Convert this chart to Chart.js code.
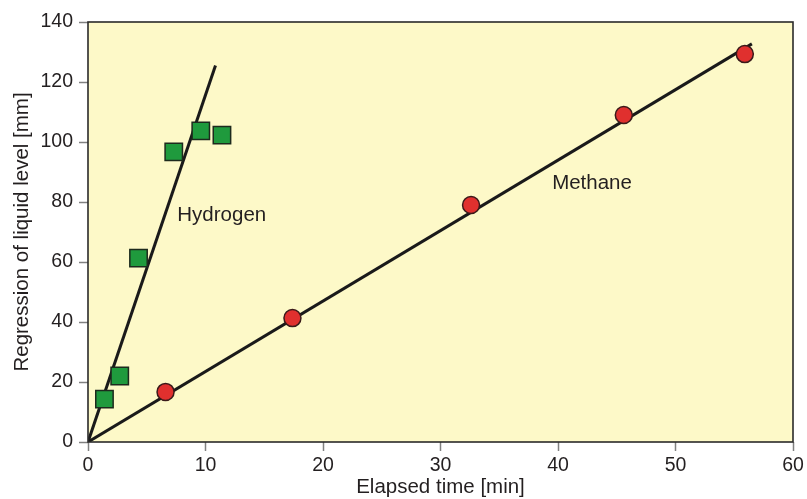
<!DOCTYPE html>
<html>
<head>
<meta charset="utf-8">
<script src="https://cdn.jsdelivr.net/npm/chart.js@4/dist/chart.umd.min.js"></script>
<style>
  html, body { margin: 0; padding: 0; background: #fff; }
  #wrap { width: 807px; height: 499px; }
</style>
</head>
<body>
<div id="wrap"><canvas id="c"></canvas></div>
<script>
// Measured points
const hydrogenTime = [1.4, 2.7, 4.3, 7.3, 9.6, 11.4];
const hydrogenLevel = [14.3, 22, 61.3, 96.7, 103.7, 102.3];
const methaneTime = [6.6, 17.4, 32.6, 45.6, 55.9];
const methaneLevel = [16.7, 41.3, 79, 109, 129.3];

// Fitted lines (start / end)
const hydrogenFitTime = [0, 10.85];
const hydrogenFitLevel = [0, 125.5];
const methaneFitTime = [0, 56.5];
const methaneFitLevel = [0, 132.7];

// In-plot labels (data coordinates of left edge)
const noteText = ['Hydrogen', 'Methane'];
const noteTime = [7.6, 39.5];
const noteLevel = [75.7, 86.3];

const xTicks = [0, 10, 20, 30, 40, 50, 60];
const yTicks = [0, 20, 40, 60, 80, 100, 120, 140];

const FONT = '"Liberation Sans", Arial, Helvetica, sans-serif';
const TEXT = '#231f20';

const toXY = (xs, ys) => xs.map((x, i) => ({ x, y: ys[i] }));

// plot background + frame + in-plot labels
const framePlugin = {
  id: 'frame',
  beforeDatasetsDraw(chart) {
    const { ctx, chartArea: a } = chart;
    ctx.save();
    ctx.fillStyle = '#fdf9c8';
    ctx.fillRect(a.left, a.top, a.right - a.left, a.bottom - a.top);
    ctx.restore();
  },
  afterDatasetsDraw(chart) {
    const { ctx, chartArea: a, scales } = chart;
    ctx.save();
    ctx.strokeStyle = '#2a2a2a';
    ctx.lineWidth = 1.6;
    ctx.strokeRect(a.left, a.top, a.right - a.left, a.bottom - a.top);
    ctx.fillStyle = TEXT;
    ctx.font = '20.5px ' + FONT;
    ctx.textAlign = 'left';
    ctx.textBaseline = 'middle';
    noteText.forEach((t, i) => {
      ctx.fillText(t, scales.x.getPixelForValue(noteTime[i]), scales.y.getPixelForValue(noteLevel[i]));
    });
    ctx.restore();
  }
};

new Chart(document.getElementById('c'), {
  type: 'scatter',
  data: {
    datasets: [
      {
        label: 'Hydrogen',
        data: toXY(hydrogenTime, hydrogenLevel),
        pointStyle: 'rect',
        pointRadius: 12.3,
        pointHoverRadius: 12.3,
        backgroundColor: '#1f9a3d',
        borderColor: '#1d2a1d',
        borderWidth: 1.5,
        order: 1
      },
      {
        label: 'Methane',
        data: toXY(methaneTime, methaneLevel),
        pointStyle: 'circle',
        pointRadius: 8.5,
        pointHoverRadius: 8.5,
        backgroundColor: '#e0302e',
        borderColor: '#3a1a1a',
        borderWidth: 1.5,
        order: 1
      },
      {
        label: 'Hydrogen fit',
        data: toXY(hydrogenFitTime, hydrogenFitLevel),
        showLine: true,
        borderColor: '#1a1a1a',
        borderWidth: 3,
        pointRadius: 0,
        order: 2
      },
      {
        label: 'Methane fit',
        data: toXY(methaneFitTime, methaneFitLevel),
        showLine: true,
        borderColor: '#1a1a1a',
        borderWidth: 3,
        pointRadius: 0,
        order: 2
      }
    ]
  },
  options: {
    responsive: true,
    maintainAspectRatio: false,
    animation: false,
    events: [],
    layout: { padding: { top: 22, right: 14, left: 0, bottom: 0 } },
    plugins: { legend: { display: false }, tooltip: { enabled: false } },
    scales: {
      x: {
        type: 'linear',
        min: 0, max: 60,
        afterFit: s => { s.height = 57; },
        afterBuildTicks: s => { s.ticks = xTicks.map(v => ({ value: v })); },
        grid: { drawOnChartArea: false, drawTicks: true, tickLength: 9, tickColor: '#808080', tickWidth: 1.5 },
        border: { display: false },
        ticks: { color: TEXT, font: { family: FONT, size: 19.5 }, padding: 3, maxRotation: 0 },
        title: { display: true, text: 'Elapsed time [min]', color: TEXT, font: { family: FONT, size: 20.5, lineHeight: 1.1 }, padding: { top: 0, bottom: 0 } }
      },
      y: {
        type: 'linear',
        min: 0, max: 140,
        afterFit: s => { s.width = 88; },
        afterBuildTicks: s => { s.ticks = yTicks.map(v => ({ value: v })); },
        grid: { drawOnChartArea: false, drawTicks: true, tickLength: 9, tickColor: '#808080', tickWidth: 1.5 },
        border: { display: false },
        ticks: { color: TEXT, font: { family: FONT, size: 19.5 }, padding: 6 },
        title: { display: true, text: 'Regression of liquid level [mm]', color: TEXT, font: { family: FONT, size: 20.5, lineHeight: 1.2 }, padding: { top: 10, bottom: 0 } }
      }
    }
  },
  plugins: [framePlugin]
});
</script>
</body>
</html>
